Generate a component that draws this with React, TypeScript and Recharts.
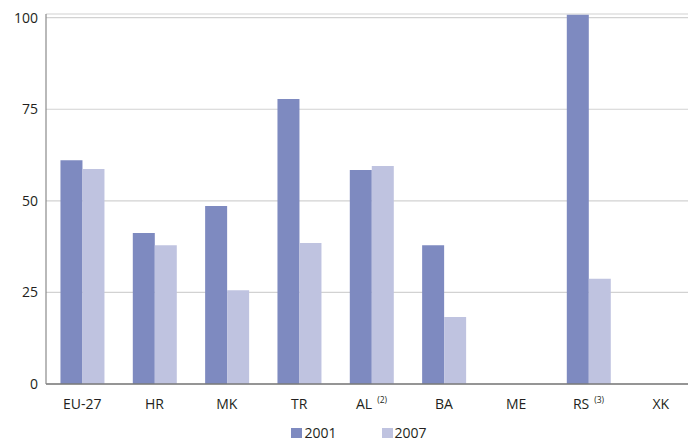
import React from 'react';
import { BarChart, Bar, XAxis, YAxis, CartesianGrid, Legend } from 'recharts';

const categories = ['EU-27', 'HR', 'MK', 'TR', 'AL', 'BA', 'ME', 'RS', 'XK'];
const footnotes = ['', '', '', '', '(2)', '', '', '(3)', ''];
const values2001: (number | null)[] = [61.1, 41.2, 48.6, 77.8, 58.4, 37.9, null, 100.8, null];
const values2007: (number | null)[] = [58.7, 37.9, 25.6, 38.5, 59.5, 18.3, null, 28.7, null];
const yTicks = [0, 25, 50, 75, 100];

const data = categories.map((c, i) => ({ name: c, y2001: values2001[i], y2007: values2007[i] }));

const FONT = '"Open Sans", sans-serif';
const TEXT = '#231f20';
const C2001 = '#7e8ac0';
const C2007 = '#bfc3e0';

const XTick = (props: any) => {
  const { x, y, payload, index } = props;
  const note = footnotes[index] || '';
  return (
    <text x={x} y={y} dy="0.71em" textAnchor="middle" fill={TEXT} fontSize={14} fontFamily={FONT}>
      <tspan>{payload.value}</tspan>
      {note ? (
        <tspan fontSize={8.5} dx={5} dy={-6}>{note}</tspan>
      ) : null}
    </text>
  );
};

const LegendContent = (props: any) => {
  const { payload } = props;
  return (
    <div style={{ display: 'flex', justifyContent: 'center', paddingLeft: 21, paddingTop: 2, boxSizing: 'border-box', height: 18, alignItems: 'flex-start', fontFamily: FONT, fontSize: 14, color: TEXT, lineHeight: '16px' }}>
      {payload.map((p: any, i: number) => (
        <div key={i} style={{ display: 'flex', alignItems: 'center', marginLeft: i === 0 ? 0 : 45 }}>
          <span style={{ display: 'inline-block', width: 11, height: 10, background: p.color, marginRight: 2 }} />
          <span>{p.value}</span>
        </div>
      ))}
    </div>
  );
};

export default function App() {
  return (
    <div>
      <style>{`body{margin:0;}`}</style>
      <BarChart
        width={688}
        height={441}
        data={data}
        margin={{ top: 14, right: -9, bottom: 0, left: 0 }}
        barCategoryGap="20%"
        barGap={0}
      >
        <CartesianGrid vertical={false} stroke="#d2d2d2" strokeWidth={1.2} />
        <XAxis
          dataKey="name"
          tickLine={false}
          axisLine={{ stroke: '#7a7a7a', strokeWidth: 1.5 }}
          tick={<XTick />}
          tickMargin={9}
          height={39}
          interval={0}
        />
        <YAxis
          domain={[0, 101]}
          ticks={yTicks}
          width={46}
          tickLine={false}
          axisLine={{ stroke: '#8a8a8a', strokeWidth: 1.2 }}
          tick={{ fill: TEXT, fontSize: 14, fontFamily: FONT }}
          tickMargin={2}
        />
        <Legend verticalAlign="bottom" content={<LegendContent />} />
        <Bar dataKey="y2001" name="2001" fill={C2001} isAnimationActive={false} />
        <Bar dataKey="y2007" name="2007" fill={C2007} isAnimationActive={false} />
      </BarChart>
    </div>
  );
}
